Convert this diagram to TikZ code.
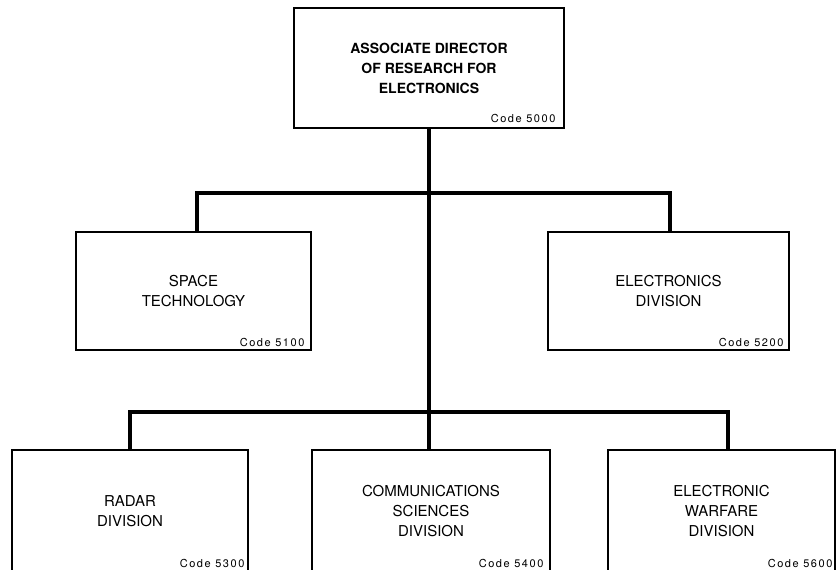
\documentclass[tikz,border=0pt]{standalone}
\usepackage{fontspec}
\setmainfont{TeX Gyre Heros}
\newfontfamily\codefont[LetterSpace=14]{TeX Gyre Heros}
\usetikzlibrary{positioning, calc}
\tikzset{
x=1pt, y=-1pt, % pixel units, y downwards
unit/.style={draw, line width=1.2pt, align=center, inner sep=0pt,
  font=\fontsize{15}{20}\selectfont}, % an office box
head/.style={unit, font=\fontsize{14}{20}\selectfont\bfseries}, % the top office
code/.style={anchor=base east, inner sep=0pt, font=\codefont\fontsize{11}{13}\selectfont}, % the code number
link/.style={line width=4pt}, % the thick connectors
}
\begin{document}
\begin{tikzpicture}
    \useasboundingbox (0,0) rectangle (836,570);
    \clip (0,0) rectangle (836,570);
    % boxes
    \node[head, minimum width=270pt, minimum height=120pt] (dir) at (429,68) {ASSOCIATE DIRECTOR\\OF RESEARCH FOR\\ELECTRONICS};
    \node[unit, minimum width=235pt, minimum height=118pt] (space) at (193.5,291) {SPACE\\TECHNOLOGY};
    \node[unit, minimum width=241pt, minimum height=118pt] (elec) at (668.5,291) {ELECTRONICS\\DIVISION};
    \node[unit, minimum width=236pt, minimum height=123pt] (radar) at (130,511.5) {RADAR\\DIVISION};
    \node[unit, minimum width=238pt, minimum height=123pt] (comm) at (431,511.5) {COMMUNICATIONS\\SCIENCES\\DIVISION};
    \node[unit, minimum width=227pt, minimum height=123pt] (ew) at (721.5,511.5) {ELECTRONIC\\WARFARE\\DIVISION};
    % codes
    \node[code] (c5000) at ([shift={(-9,-6)}]dir.south east) {Code 5000};
    \node[code] (c5100) at ([shift={(-7,-4)}]space.south east) {Code 5100};
    \node[code] (c5200) at ([shift={(-6,-4)}]elec.south east) {Code 5200};
    \node[code] (c5300) at ([shift={(-4,-6)}]radar.south east) {Code 5300};
    \node[code] (c5400) at ([shift={(-7,-6)}]comm.south east) {Code 5400};
    \node[code] (c5600) at ([shift={(-3,-6)}]ew.south east) {Code 5600};
    % connectors
    \coordinate (upbus) at (430,193);
    \coordinate (lowbus) at (430,412);
    \draw[link] (dir.south) -- (dir.south |- comm.north);
    \draw[link] ([xshift=3.5pt]space.north) |- (upbus) -| ([xshift=1.5pt]elec.north);
    \draw[link] (radar.north) |- (lowbus) -| ([xshift=6.5pt]ew.north);
\end{tikzpicture}
\end{document}
